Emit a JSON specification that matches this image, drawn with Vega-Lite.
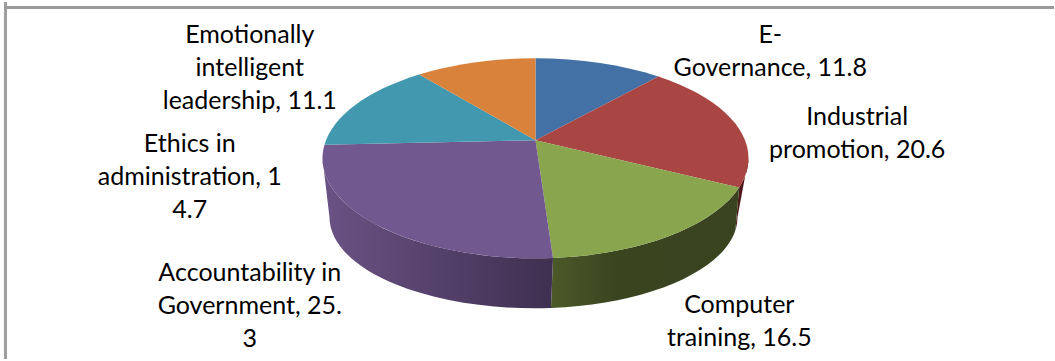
{
  "$schema": "https://vega.github.io/schema/vega-lite/v6.json",
  "description": "Tilted pie of training shares. Each wedge outline is derived from its share: the cumulative angle is warped by the view's perspective, then written as an elliptical SVG path for a point mark (size 4 draws the path at 1:1).",
  "width": 1055,
  "height": 361,
  "padding": 0,
  "autosize": {"type": "fit", "contains": "padding"},
  "background": "white",
  "config": {"view": {"stroke": null}},
  "data": {
    "values": [
      {"topic": "E-Governance", "share": 11.8, "label": "E-|Governance, 11.8"},
      {"topic": "Industrial promotion", "share": 20.6, "label": "Industrial|promotion, 20.6"},
      {"topic": "Computer training", "share": 16.5, "label": "Computer|training, 16.5"},
      {"topic": "Accountability in Government", "share": 25.3, "label": "Accountability in|Government, 25.|3"},
      {"topic": "Ethics in administration", "share": 14.7, "label": "Ethics in|administration, 1|4.7"},
      {"topic": "Emotionally intelligent leadership", "share": 11.1, "label": "Emotionally|intelligent|leadership, 11.1"}
    ]
  },
  "transform": [
    {"window": [{"op": "sum", "field": "share", "as": "cum1"}]},
    {"calculate": "datum.cum1 - datum.share", "as": "cum0"},
    {"calculate": "2 * PI * datum.cum0 / 100", "as": "a0"},
    {"calculate": "2 * PI * datum.cum1 / 100", "as": "a1"},
    {"calculate": "datum.a0 - 0.187 * sin(datum.a0)", "as": "t0"},
    {"calculate": "datum.a1 - 0.187 * sin(datum.a1)", "as": "t1"},
    {"calculate": "'M0,-18 L' + round(213 * sin(datum.t0) * 10) / 10 + ',' + round(-100 * cos(datum.t0) * 10) / 10 + ' A213,100 0 0 1 ' + round(213 * sin(datum.t1) * 10) / 10 + ',' + round(-100 * cos(datum.t1) * 10) / 10 + ' Z'", "as": "wedge"},
    {"calculate": "max(datum.t0, PI / 2)", "as": "r0"},
    {"calculate": "min(datum.t1, 3 * PI / 2)", "as": "r1"},
    {"calculate": "datum.r0 + 0.29 * sin(2 * datum.r0) * sin(datum.r0)", "as": "l0"},
    {"calculate": "datum.r1 + 0.29 * sin(2 * datum.r1) * sin(datum.r1)", "as": "l1"},
    {"calculate": "'M' + round(213 * sin(datum.r0) * 10) / 10 + ',' + round(-100 * cos(datum.r0) * 10) / 10 + ' A213,100 0 0 1 ' + round(213 * sin(datum.r1) * 10) / 10 + ',' + round(-100 * cos(datum.r1) * 10) / 10 + ' L' + round((-2 + 204 * sin(datum.l1)) * 10) / 10 + ',' + round((59 - 91 * cos(datum.l1)) * 10) / 10 + ' A204,91 0 0 0 ' + round((-2 + 204 * sin(datum.l0)) * 10) / 10 + ',' + round((59 - 91 * cos(datum.l0)) * 10) / 10 + ' Z'", "as": "rim"},
    {"calculate": "{'E-Governance': 235, 'Industrial promotion': 322, 'Computer training': 204, 'Accountability in Government': -286, 'Ethics in administration': -346, 'Emotionally intelligent leadership': -286}[datum.topic]", "as": "labelX"},
    {"calculate": "{'E-Governance': -125, 'Industrial promotion': -42, 'Computer training': 148, 'Accountability in Government': 116, 'Ethics in administration': -14, 'Emotionally intelligent leadership': -125}[datum.topic]", "as": "labelY"},
    {"calculate": "split(datum.label, '|')", "as": "lines"}
  ],
  "layer": [
    {
      "transform": [{"filter": "datum.topic === 'Industrial promotion'"}],
      "mark": {"type": "point", "filled": true, "opacity": 1, "size": 4, "strokeWidth": 0, "fill": "#4f1b1a"},
      "encoding": {
        "x": {"datum": 0, "type": "quantitative", "axis": null, "scale": {"domain": [-536, 519], "nice": false, "zero": false}},
        "y": {"datum": 0, "type": "quantitative", "axis": null, "scale": {"domain": [-158, 203], "reverse": true, "nice": false, "zero": false}},
        "shape": {"field": "rim", "type": "nominal", "scale": null}
      }
    },
    {
      "transform": [{"filter": "datum.topic === 'Computer training'"}],
      "mark": {
        "type": "point", "filled": true, "opacity": 1, "size": 4, "strokeWidth": 0,
        "fill": {"gradient": "linear", "x1": 0, "y1": 0, "x2": 1, "y2": 0, "stops": [{"offset": 0, "color": "#4b5a29"}, {"offset": 0.35, "color": "#3a441f"}, {"offset": 1, "color": "#394320"}]}
      },
      "encoding": {
        "x": {"datum": 0, "type": "quantitative"},
        "y": {"datum": 0, "type": "quantitative"},
        "shape": {"field": "rim", "type": "nominal", "scale": null}
      }
    },
    {
      "transform": [{"filter": "datum.topic === 'Accountability in Government'"}],
      "mark": {
        "type": "point", "filled": true, "opacity": 1, "size": 4, "strokeWidth": 0,
        "fill": {"gradient": "linear", "x1": 0, "y1": 0, "x2": 1, "y2": 0, "stops": [{"offset": 0, "color": "#6a5385"}, {"offset": 1, "color": "#3f2f50"}]}
      },
      "encoding": {
        "x": {"datum": 0, "type": "quantitative"},
        "y": {"datum": 0, "type": "quantitative"},
        "shape": {"field": "rim", "type": "nominal", "scale": null}
      }
    },
    {
      "mark": {"type": "point", "filled": true, "opacity": 1, "size": 4, "strokeWidth": 0},
      "encoding": {
        "x": {"datum": 0, "type": "quantitative"},
        "y": {"datum": 0, "type": "quantitative"},
        "shape": {"field": "wedge", "type": "nominal", "scale": null},
        "color": {
          "field": "topic", "type": "nominal", "legend": null,
          "scale": {
            "domain": ["E-Governance", "Industrial promotion", "Computer training", "Accountability in Government", "Ethics in administration", "Emotionally intelligent leadership"],
            "range": ["#4371a6", "#a94543", "#89a54e", "#71588f", "#4198af", "#d9823c"]
          }
        }
      }
    },
    {
      "mark": {"type": "text", "font": "Lato", "fontSize": 25, "lineHeight": 33, "align": "center", "baseline": "middle", "color": "#000000"},
      "encoding": {
        "x": {"field": "labelX", "type": "quantitative"},
        "y": {"field": "labelY", "type": "quantitative"},
        "text": {"field": "lines", "type": "nominal"}
      }
    },
    {
      "mark": {"type": "rule", "color": "#9f9f9f", "strokeWidth": 3},
      "encoding": {"x": {"datum": -530.5, "type": "quantitative"}}
    },
    {
      "mark": {"type": "rule", "color": "#9a9a9a", "strokeWidth": 2},
      "encoding": {
        "x": {"datum": -532, "type": "quantitative"},
        "x2": {"datum": 519},
        "y": {"datum": -152.5, "type": "quantitative"}
      }
    }
  ]
}
